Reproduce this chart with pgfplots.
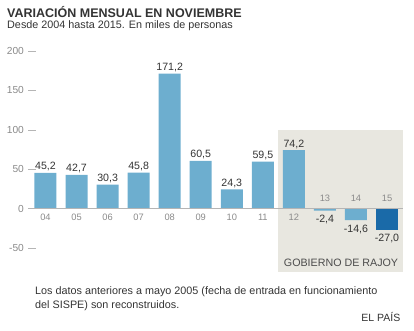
\documentclass[border=0pt]{standalone}
\usepackage{pgfplots}
\pgfplotsset{compat=1.18}
\usepackage{fontspec}
\setmainfont{Liberation Sans}
\definecolor{barlight}{HTML}{6DAECF}
\definecolor{bardark}{HTML}{1A6AA8}
\definecolor{shade}{HTML}{E8E7E0}
\definecolor{ticktext}{HTML}{8A8A8A}
\definecolor{labeltext}{HTML}{333333}
\definecolor{zeroline}{HTML}{B5B5B5}
\tikzset{catlab/.style={anchor=base, inner sep=0pt, text=ticktext, font=\fontsize{9.3}{11}\selectfont}}
\begin{document}
\begin{tikzpicture}
\useasboundingbox (0,0) rectangle (414pt,331pt);
\node[anchor=base west, inner sep=0pt, font=\bfseries\fontsize{12.5}{14}\selectfont, text=black!80] at (7pt,313.7pt) {VARIACIÓN MENSUAL EN NOVIEMBRE};
\node[anchor=base west, inner sep=0pt, font=\fontsize{10.8}{12}\selectfont, text=labeltext] at (7pt,302.5pt) {Desde 2004 hasta 2015. En miles de personas};
\begin{axis}[
  at={(28.1pt,55.4pt)}, anchor=south west,
  x=31.05pt, y=0.788pt,
  xmin=-0.56, xmax=11.52, ymin=-85, ymax=200,
  axis x line*=bottom, axis y line*=left,
  x axis line style={draw=none}, y axis line style={draw=none},
  xtick=\empty,
  ytick={-50,0,50,100,150,200},
  yticklabels={-50,0,50,100,150,200},
  ytick align=inside, major tick length=8pt,
  tick style={draw=zeroline, line width=0.5pt},
  yticklabel style={anchor=east, inner sep=0pt, xshift=-4pt, text=ticktext, font=\fontsize{10.2}{12}\selectfont},
  clip=false,
  barstyle/.style={ybar, bar width=22pt, bar shift=0pt, draw=none,
    point meta=explicit symbolic, nodes near coords,
    every node near coord/.append style={font=\fontsize{10.6}{12}\selectfont, text=labeltext, inner sep=1.5pt}},
  negstyle/.style={every node near coord/.append style={anchor=north, yshift=-3pt}},
]
\addplot[fill=shade, draw=none, forget plot, mark=none] coordinates {(7.5,-81) (7.5,100) (11.51,100) (11.51,-81)} -- cycle;
\addplot[barstyle, fill=barlight] coordinates {
(0,45.2) [45,2]
(1,42.7) [42,7]
(2,30.3) [30,3]
(3,45.8) [45,8]
(4,171.2) [171,2]
(5,60.5) [60,5]
(6,24.3) [24,3]
(7,59.5) [59,5]
(8,74.2) [74,2]
};
\addplot[barstyle, negstyle, fill=barlight] coordinates {
(9,-2.4) [-2,4]
(10,-14.6) [-14,6]
};
\addplot[barstyle, negstyle, fill=bardark] coordinates {
(11,-27.0) [-27,0]
};
\draw[zeroline, line width=0.6pt] (axis cs:-0.56,0) -- (axis cs:11.52,0);
\node[catlab] at (axis cs:0,-14.8) {04};
\node[catlab] at (axis cs:1,-14.8) {05};
\node[catlab] at (axis cs:2,-14.8) {06};
\node[catlab] at (axis cs:3,-14.8) {07};
\node[catlab] at (axis cs:4,-14.8) {08};
\node[catlab] at (axis cs:5,-14.8) {09};
\node[catlab] at (axis cs:6,-14.8) {10};
\node[catlab] at (axis cs:7,-14.8) {11};
\node[catlab] at (axis cs:8,-14.8) {12};
\node[catlab] at (axis cs:9,9) {13};
\node[catlab] at (axis cs:10,9) {14};
\node[catlab] at (axis cs:11,9) {15};
\end{axis}
\node[anchor=base east, inner sep=0pt, text=black!70, font=\fontsize{10.7}{12}\selectfont] at (398.3pt,64pt) {GOBIERNO DE RAJOY};
\node[anchor=base west, inner sep=0pt, text=labeltext, font=\fontsize{10.8}{12}\selectfont] at (35pt,36.5pt) {Los datos anteriores a mayo 2005 (fecha de entrada en funcionamiento};
\node[anchor=base west, inner sep=0pt, text=labeltext, font=\fontsize{10.8}{12}\selectfont] at (35pt,22.5pt) {del SISPE) son reconstruidos.};
\node[anchor=base east, inner sep=0pt, text=labeltext, font=\fontsize{10.5}{12}\selectfont] at (400.5pt,9pt) {EL PAÍS};
\end{tikzpicture}
\end{document}
